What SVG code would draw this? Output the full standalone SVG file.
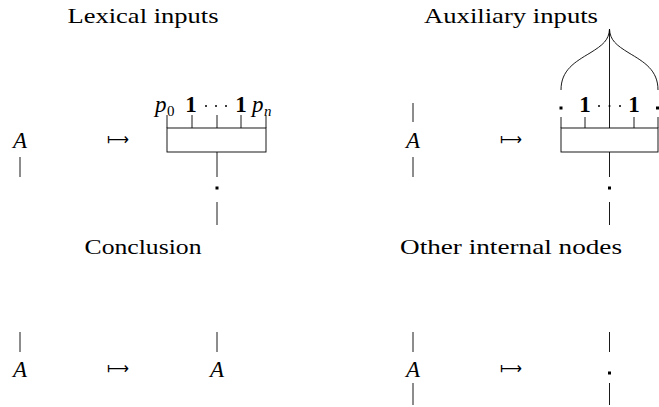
<svg xmlns="http://www.w3.org/2000/svg" width="659" height="407" viewBox="0 0 659 407">
<style>
.title{font-family:"Liberation Serif",serif;font-size:21px;fill:#000}
.math{font-family:"Liberation Serif",serif;font-style:italic;font-size:23px;fill:#000}
.sub{font-family:"Liberation Serif",serif;font-size:15px;fill:#000}
.subi{font-family:"Liberation Serif",serif;font-style:italic;font-size:15px;fill:#000}
.one{font-family:"Liberation Serif",serif;font-weight:bold;font-size:23px;fill:#000}
.arr{font-family:"DejaVu Sans",sans-serif;font-size:17px;fill:#000}
.ln{stroke:#000;stroke-width:0.9;fill:none}
.dot{fill:#000}
</style>
<g id="titles">
<text class="title" x="143" y="23" text-anchor="middle" textLength="151" lengthAdjust="spacingAndGlyphs">Lexical inputs</text>
<text class="title" x="511" y="23" text-anchor="middle" textLength="174" lengthAdjust="spacingAndGlyphs">Auxiliary inputs</text>
<text class="title" x="143" y="254" text-anchor="middle" textLength="117" lengthAdjust="spacingAndGlyphs">Conclusion</text>
<text class="title" x="511" y="254" text-anchor="middle" textLength="222" lengthAdjust="spacingAndGlyphs">Other internal nodes</text>
</g>
<g id="lexical-left">
<text class="math" x="20" y="148" text-anchor="middle">A</text>
<line class="ln" x1="20" y1="157" x2="20" y2="177"/>
</g>
<g id="lexical-arrow"><text class="arr" x="118" y="145" text-anchor="middle" textLength="22" lengthAdjust="spacingAndGlyphs">⟼</text></g>
<g id="lexical-right">
<text class="math" x="155" y="112">p</text><text class="sub" x="167" y="116">0</text>
<text class="one" x="191" y="112" text-anchor="middle">1</text>
<text class="one" x="241" y="112" text-anchor="middle">1</text>
<circle class="dot" cx="206" cy="106" r="1"/><circle class="dot" cx="216" cy="106" r="1"/><circle class="dot" cx="226" cy="106" r="1"/>
<text class="math" x="252" y="112">p</text><text class="subi" x="264" y="116">n</text>
<rect class="ln" x="167" y="128" width="99" height="24"/>
<line class="ln" x1="167" y1="115" x2="167" y2="128"/>
<line class="ln" x1="192" y1="115" x2="192" y2="128"/>
<line class="ln" x1="217" y1="115" x2="217" y2="128"/>
<line class="ln" x1="241" y1="115" x2="241" y2="128"/>
<line class="ln" x1="266" y1="115" x2="266" y2="128"/>
<line class="ln" x1="217" y1="152" x2="217" y2="177"/>
<rect class="dot" x="215.5" y="186.5" width="3" height="3"/>
<line class="ln" x1="217" y1="202" x2="217" y2="225"/>
</g>
<g id="aux-left">
<line class="ln" x1="413" y1="103" x2="413" y2="122"/>
<text class="math" x="413" y="148" text-anchor="middle">A</text>
<line class="ln" x1="413" y1="157" x2="413" y2="177"/>
</g>
<g id="aux-arrow"><text class="arr" x="511" y="145" text-anchor="middle" textLength="22" lengthAdjust="spacingAndGlyphs">⟼</text></g>
<g id="aux-right">
<path class="ln" d="M561,90 C561,70 575,62 590,53 C603,45 609,40 609.5,29 C610,40 616,45 629,53 C644,62 658,70 658,90"/>
<line class="ln" x1="609.5" y1="29" x2="609.5" y2="128"/>
<rect class="dot" x="559.5" y="106.5" width="3" height="3"/>
<rect class="dot" x="656" y="106.5" width="3" height="3"/>
<text class="one" x="585" y="112" text-anchor="middle">1</text>
<text class="one" x="634" y="112" text-anchor="middle">1</text>
<circle class="dot" cx="599" cy="106" r="1"/><circle class="dot" cx="609.5" cy="106" r="1"/><circle class="dot" cx="620" cy="106" r="1"/>
<rect class="ln" x="561" y="128" width="97" height="24"/>
<line class="ln" x1="561" y1="117" x2="561" y2="128"/>
<line class="ln" x1="585" y1="117" x2="585" y2="128"/>
<line class="ln" x1="634" y1="117" x2="634" y2="128"/>
<line class="ln" x1="658" y1="117" x2="658" y2="128"/>
<line class="ln" x1="609.5" y1="152" x2="609.5" y2="177"/>
<rect class="dot" x="608" y="186.5" width="3" height="3"/>
<line class="ln" x1="609.5" y1="202" x2="609.5" y2="225"/>
</g>
<g id="concl-left">
<line class="ln" x1="20" y1="332" x2="20" y2="352"/>
<text class="math" x="20" y="377" text-anchor="middle">A</text>
</g>
<g id="concl-arrow"><text class="arr" x="118" y="374" text-anchor="middle" textLength="22" lengthAdjust="spacingAndGlyphs">⟼</text></g>
<g id="concl-right">
<line class="ln" x1="217" y1="332" x2="217" y2="352"/>
<text class="math" x="217" y="377" text-anchor="middle">A</text>
</g>
<g id="other-left">
<line class="ln" x1="413" y1="332" x2="413" y2="352"/>
<text class="math" x="413" y="377" text-anchor="middle">A</text>
<line class="ln" x1="413" y1="383" x2="413" y2="405"/>
</g>
<g id="other-arrow"><text class="arr" x="511" y="374" text-anchor="middle" textLength="22" lengthAdjust="spacingAndGlyphs">⟼</text></g>
<g id="other-right">
<line class="ln" x1="609.5" y1="332" x2="609.5" y2="352"/>
<rect class="dot" x="608" y="371.5" width="3" height="3"/>
<line class="ln" x1="609.5" y1="383" x2="609.5" y2="405"/>
</g>
</svg>
